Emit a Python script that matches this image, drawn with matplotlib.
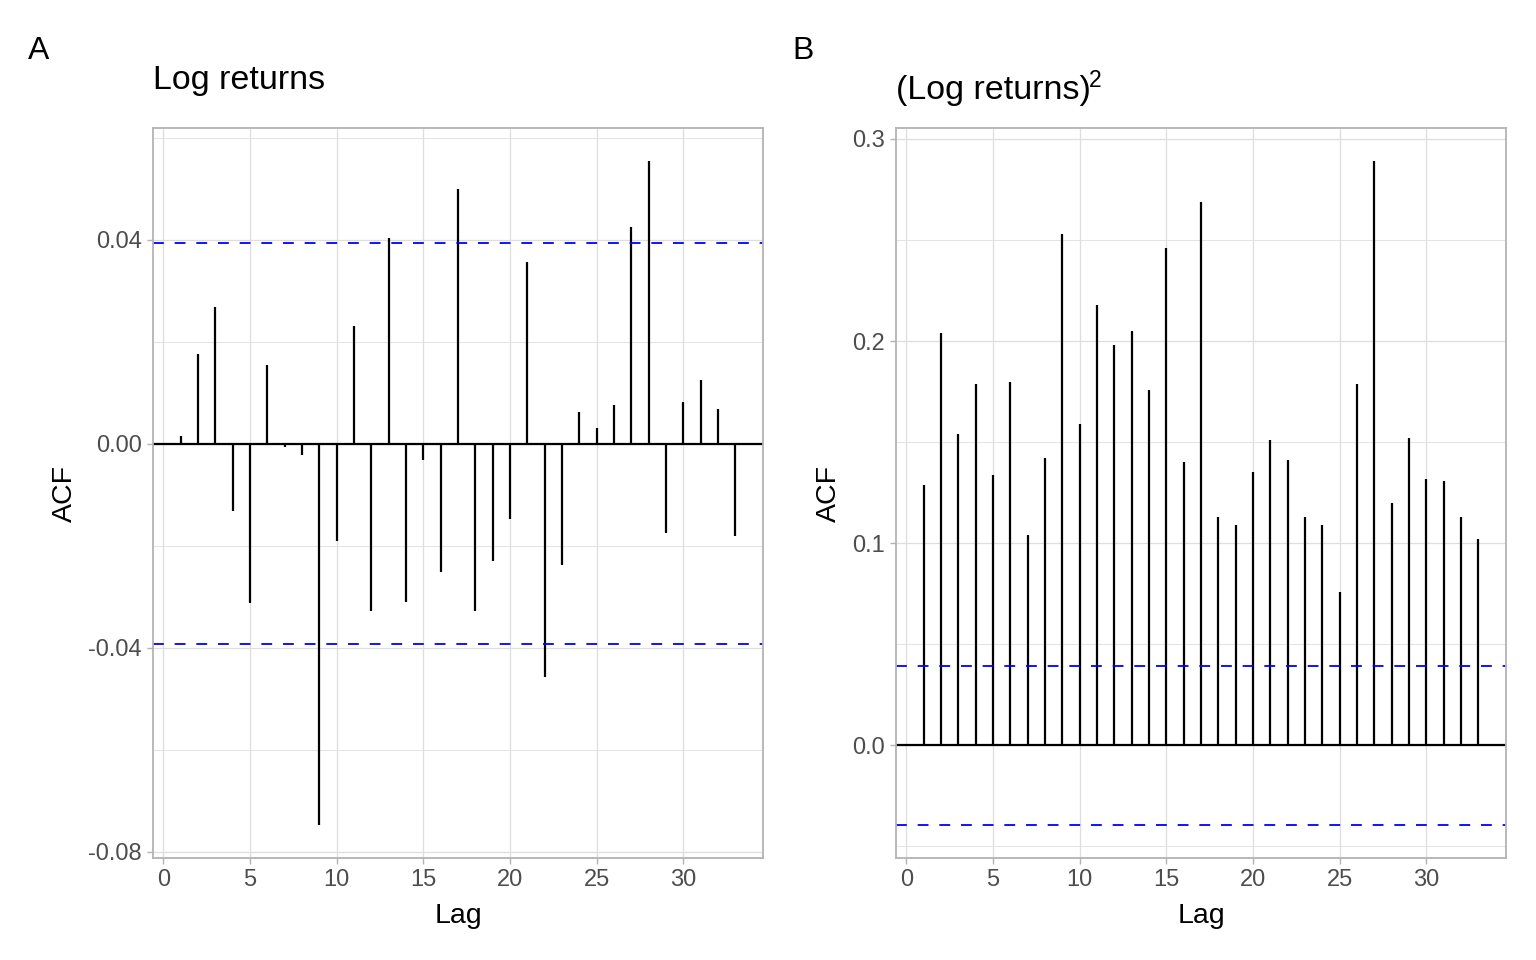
import matplotlib
matplotlib.use("Agg")
import matplotlib.pyplot as plt
from matplotlib.ticker import MultipleLocator, FormatStrFormatter

plt.rcParams["font.family"] = ["Liberation Sans", "DejaVu Sans"]
plt.rcParams["axes.unicode_minus"] = False

# ACF values
lags = list(range(1, 34))
acf_returns = [0.0016, 0.0176, 0.0268, -0.0131, -0.0313, 0.0155, -0.0006, -0.0022,
               -0.0747, -0.0190, 0.0231, -0.0327, 0.0403, -0.0311, -0.0031, -0.0252,
               0.0499, -0.0327, -0.0229, -0.0147, 0.0356, -0.0458, -0.0237, 0.0063,
               0.0031, 0.0076, 0.0424, 0.0554, -0.0174, 0.0082, 0.0125, 0.0068, -0.0180]
acf_squared = [0.129, 0.204, 0.154, 0.179, 0.134, 0.180, 0.104, 0.142, 0.253, 0.159,
               0.218, 0.198, 0.205, 0.176, 0.246, 0.140, 0.269, 0.113, 0.109, 0.135,
               0.151, 0.141, 0.113, 0.109, 0.076, 0.179, 0.289, 0.120, 0.152, 0.132,
               0.131, 0.113, 0.102]
ci_bound = 0.0393
x_ticks = [0, 5, 10, 15, 20, 25, 30]

GRID = "#DEDEDE"
BORDER = "#B3B3B3"
TICKLAB = "#4D4D4D"

fig = plt.figure(figsize=(15.36, 9.6), dpi=100)
W, H = 1536, 960


def panel(left, values, major, minor, fmt, ylab_x):
    ax = fig.add_axes([left / W, (H - 858) / H, 610 / W, 730 / H])
    lo = min(values + [-ci_bound, 0])
    hi = max(values + [ci_bound, 0])
    pad = 0.05 * (hi - lo)
    ax.set_ylim(lo - pad, hi + pad)
    xpad = 0.05 * (max(lags) - min(lags))
    ax.set_xlim(min(lags) - xpad, max(lags) + xpad)

    ax.set_xticks(x_ticks)
    ax.yaxis.set_major_locator(MultipleLocator(major))
    ax.yaxis.set_minor_locator(MultipleLocator(minor))
    ax.yaxis.set_major_formatter(FormatStrFormatter(fmt))
    ax.grid(which="major", color=GRID, linewidth=0.9)
    ax.grid(which="minor", axis="y", color=GRID, linewidth=0.6)
    ax.set_axisbelow(True)
    ax.tick_params(which="minor", length=0)
    ax.tick_params(which="major", length=4, width=1, color=BORDER,
                   labelcolor=TICKLAB, labelsize=17, pad=4)
    for s in ax.spines.values():
        s.set_color(BORDER)
        s.set_linewidth(1.3)

    ax.vlines(lags, 0, values, color="black", linewidth=1.6)
    ax.axhline(0, color="black", linewidth=1.6)
    for c in (ci_bound, -ci_bound):
        ax.axhline(c, color="#0000FF", linewidth=1.3, linestyle=(0, (6, 6)))

    ax.set_xlabel("Lag", fontsize=20.5, color="black")
    ax.set_ylabel("ACF", fontsize=20.5, color="black")
    ax.xaxis.set_label_coords(0.5, -0.062)
    ax.yaxis.set_label_coords(ylab_x, 0.5)
    return ax


axA = panel(153, acf_returns, 0.04, 0.02, "%.2f", -0.123)
axB = panel(896, acf_squared, 0.1, 0.05, "%.1f", -0.089)

fig.text(28 / W, 1 - 59 / H, "A", fontsize=23, va="baseline", ha="left")
fig.text(792 / W, 1 - 59 / H, "B", fontsize=23, va="baseline", ha="left")
fig.text(153 / W, 1 - 89 / H, "Log returns", fontsize=24.5, va="baseline", ha="left")
tB = fig.text(896 / W, 1 - 99 / H, "(Log returns)", fontsize=24.5, va="baseline", ha="left")

# superscript placed right after the closing bracket
fig.canvas.draw()
bb = tB.get_window_extent()
fig.text((bb.x1 - 2) / W, 1 - 87 / H, "2", fontsize=16.5, va="baseline", ha="left")

fig.savefig("out.png", dpi=100, facecolor="white")
